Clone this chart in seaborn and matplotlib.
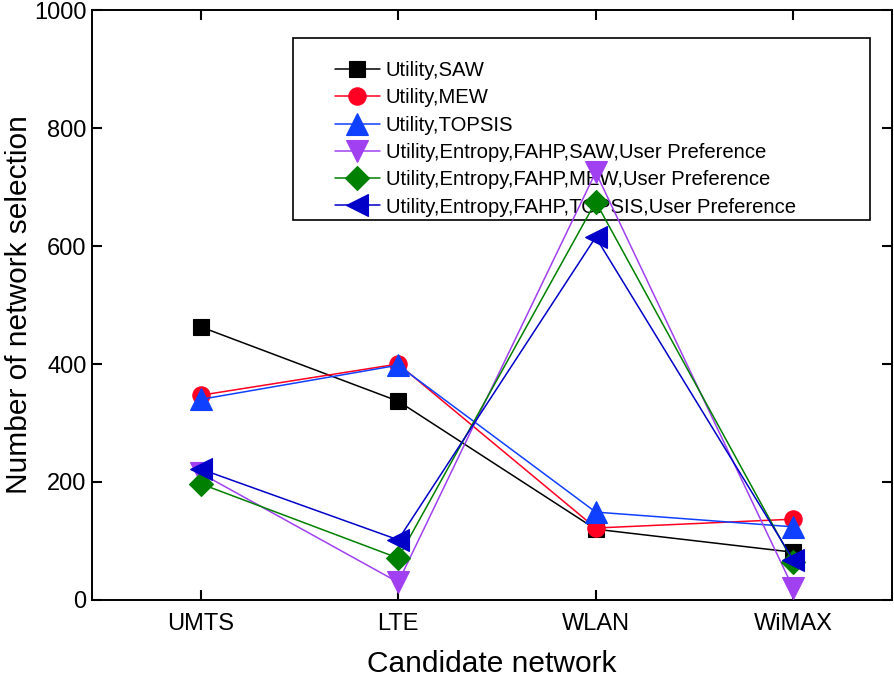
import matplotlib
matplotlib.use("Agg")
import matplotlib.pyplot as plt
import matplotlib.patches as mpatches
import seaborn as sns
import pandas as pd

categories = ["UMTS", "LTE", "WLAN", "WiMAX"]
series_names = [
    "Utility,SAW",
    "Utility,MEW",
    "Utility,TOPSIS",
    "Utility,Entropy,FAHP,SAW,User Preference",
    "Utility,Entropy,FAHP,MEW,User Preference",
    "Utility,Entropy,FAHP,TOPSIS,User Preference",
]
saw = [463, 337, 120, 81]
mew = [347, 400, 122, 137]
topsis = [340, 398, 149, 124]
e_saw = [215, 30, 725, 20]
e_mew = [197, 71, 675, 64]
e_topsis = [222, 102, 615, 68]
values = [saw, mew, topsis, e_saw, e_mew, e_topsis]

colors = ["#000000", "#ff0022", "#1040ff", "#a040f0", "#008000", "#0000c8"]
markers = ["s", "o", "^", "v", "D", "<"]
msizes = [12, 12.5, 16, 16, 12, 16]

sns.set_style("ticks")
plt.rcParams["font.family"] = ["Liberation Sans", "DejaVu Sans"]
plt.rcParams.update({
    "text.color": "black",
    "axes.labelcolor": "black",
    "xtick.color": "black",
    "ytick.color": "black",
    "axes.edgecolor": "black",
})

fig = plt.figure(figsize=(8.95, 6.78), dpi=100)
ax = fig.add_axes([92 / 895, 78 / 678, (892 - 92) / 895, (600 - 10) / 678])

for name, vals, c, m, ms in zip(series_names, values, colors, markers, msizes):
    df = pd.DataFrame({"x": list(range(len(categories))), "y": vals})
    sns.lineplot(data=df, x="x", y="y", ax=ax, color=c, marker=m, markersize=ms,
                 markeredgecolor=c, markeredgewidth=0.8, linewidth=1.1, label=name,
                 zorder=6)

ax.set_xlim(-0.55, 3.5)
ax.set_ylim(0, 1000)
ax.set_xticks(range(len(categories)))
ax.set_xticklabels(categories)
ax.set_yticks([0, 200, 400, 600, 800, 1000])
ax.tick_params(axis="both", direction="in", labelsize=17, length=7, width=1.5,
               top=True, right=True, colors="black")
ax.tick_params(axis="x", pad=9.5)
ax.tick_params(axis="y", pad=4)
ax.set_xlabel("Candidate network", fontsize=21.5, labelpad=11)
ax.set_ylabel("Number of network selection", fontsize=21.5, labelpad=1)
for s in ax.spines.values():
    s.set_linewidth(1.4)
    s.set_visible(True)
    s.set_color("black")

# legend frame drawn as a rectangle (pixel geometry from reference)
x0, x1 = (293 - 92) / 800, (870 - 92) / 800
y0, y1 = (600 - 220) / 590, (600 - 38) / 590
ax.add_patch(mpatches.Rectangle((x0, y0), x1 - x0, y1 - y0, transform=ax.transAxes,
                                fill=False, edgecolor="black",
                                linewidth=1.2, zorder=4))

leg = ax.legend(loc="upper left", bbox_to_anchor=((335 - 92) / 800, (600 - 61) / 590),
                fontsize=14.6, frameon=False, handlelength=2.2, handletextpad=0.3,
                borderpad=0, labelspacing=0.41, borderaxespad=0, labelcolor="black")
leg.set_zorder(5)

fig.savefig("out.png", dpi=100)
